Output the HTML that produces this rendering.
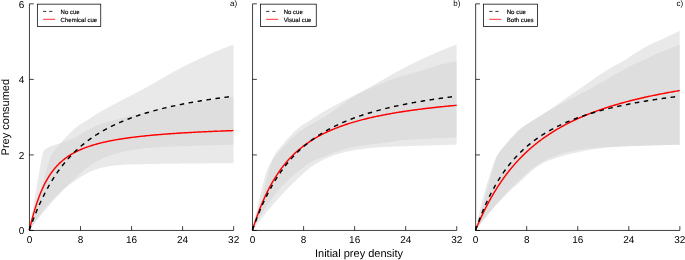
<!DOCTYPE html>
<html><head><meta charset="utf-8"><title>Functional response</title>
<style>html,body{margin:0;padding:0;background:#fff}body{width:685px;height:260px;overflow:hidden;font-family:"Liberation Sans",sans-serif}</style></head>
<body>
<svg width="685" height="260" viewBox="0 0 685 260" style="display:block;font-family:'Liberation Sans',sans-serif;text-rendering:geometricPrecision;will-change:transform">
<rect width="685" height="260" fill="#fff"/>
<path d="M29.30,230.20 L29.33,230.12 L29.38,229.94 L29.46,229.68 L29.57,229.35 L29.69,228.95 L29.83,228.49 L29.99,227.98 L30.17,227.41 L30.36,226.78 L30.56,226.11 L30.79,225.38 L31.02,224.60 L31.28,223.77 L31.54,222.89 L31.82,221.97 L32.11,220.99 L32.42,219.97 L32.74,218.90 L33.07,217.78 L33.41,216.62 L33.76,215.41 L34.13,214.15 L34.51,212.85 L34.90,211.50 L35.30,210.10 L35.72,208.66 L36.14,207.17 L36.58,205.64 L37.03,204.06 L37.49,202.44 L37.96,200.77 L38.44,199.06 L38.93,197.31 L39.43,195.51 L39.94,193.66 L40.46,191.78 L40.99,189.82 L41.54,187.79 L42.09,185.69 L42.65,183.56 L43.22,181.40 L43.81,179.24 L44.40,177.03 L45.00,174.79 L45.61,172.53 L46.23,170.29 L46.86,168.10 L47.50,165.95 L48.15,163.75 L48.81,161.56 L49.48,159.51 L50.16,157.69 L50.84,156.20 L51.54,154.90 L52.24,153.74 L52.96,152.67 L53.68,151.65 L54.41,150.65 L55.15,149.70 L55.90,148.81 L56.66,147.94 L57.42,147.08 L58.20,146.22 L58.98,145.32 L59.78,144.39 L60.58,143.44 L61.39,142.48 L62.21,141.51 L63.03,140.54 L63.87,139.57 L64.71,138.61 L65.56,137.67 L66.42,136.75 L67.29,135.81 L68.17,134.88 L69.05,133.94 L69.95,133.00 L70.85,132.08 L71.76,131.17 L72.68,130.29 L73.60,129.44 L74.54,128.63 L75.48,127.86 L76.43,127.13 L77.39,126.43 L78.35,125.75 L79.33,125.10 L80.31,124.46 L81.30,123.84 L82.29,123.22 L83.30,122.61 L84.31,121.99 L85.33,121.37 L86.36,120.73 L87.39,120.07 L88.44,119.39 L89.49,118.70 L90.55,118.01 L91.61,117.31 L92.69,116.60 L93.77,115.90 L94.86,115.19 L95.95,114.49 L97.06,113.79 L98.17,113.10 L99.29,112.42 L100.41,111.76 L101.55,111.10 L102.69,110.45 L103.84,109.80 L104.99,109.16 L106.16,108.52 L107.33,107.89 L108.50,107.25 L109.69,106.62 L110.88,105.99 L112.08,105.36 L113.29,104.72 L114.50,104.09 L115.72,103.44 L116.95,102.79 L118.18,102.14 L119.42,101.48 L120.67,100.83 L121.93,100.17 L123.19,99.52 L124.46,98.86 L125.74,98.20 L127.03,97.54 L128.32,96.88 L129.62,96.21 L130.92,95.54 L132.23,94.86 L133.55,94.18 L134.88,93.49 L136.21,92.80 L137.55,92.10 L138.90,91.39 L140.25,90.67 L141.61,89.94 L142.98,89.20 L144.35,88.45 L145.73,87.69 L147.12,86.92 L148.52,86.14 L149.92,85.35 L151.32,84.56 L152.74,83.75 L154.16,82.94 L155.59,82.13 L157.02,81.31 L158.46,80.48 L159.91,79.65 L161.37,78.82 L162.83,77.98 L164.29,77.14 L165.77,76.30 L167.25,75.46 L168.74,74.61 L170.23,73.77 L171.73,72.93 L173.24,72.08 L174.75,71.25 L176.27,70.41 L177.80,69.58 L179.33,68.75 L180.87,67.93 L182.42,67.12 L183.97,66.31 L185.53,65.51 L187.10,64.73 L188.67,63.95 L190.25,63.18 L191.83,62.42 L193.42,61.66 L195.02,60.90 L196.62,60.15 L198.23,59.40 L199.85,58.65 L201.47,57.90 L203.10,57.16 L204.74,56.42 L206.38,55.69 L208.03,54.96 L209.68,54.23 L211.34,53.50 L213.01,52.78 L214.68,52.07 L216.36,51.35 L218.05,50.65 L219.74,49.94 L221.44,49.24 L223.14,48.55 L224.85,47.86 L226.57,47.18 L228.29,46.50 L230.02,45.83 L231.76,45.16 L233.50,44.50 L233.50,144.70 L231.76,144.74 L230.02,144.78 L228.29,144.82 L226.57,144.86 L224.85,144.90 L223.14,144.94 L221.44,144.99 L219.74,145.03 L218.05,145.08 L216.36,145.12 L214.68,145.17 L213.01,145.21 L211.34,145.26 L209.68,145.30 L208.03,145.35 L206.38,145.40 L204.74,145.45 L203.10,145.49 L201.47,145.54 L199.85,145.59 L198.23,145.64 L196.62,145.69 L195.02,145.74 L193.42,145.79 L191.83,145.84 L190.25,145.88 L188.67,145.93 L187.10,145.98 L185.53,146.03 L183.97,146.08 L182.42,146.13 L180.87,146.18 L179.33,146.23 L177.80,146.28 L176.27,146.33 L174.75,146.39 L173.24,146.44 L171.73,146.50 L170.23,146.56 L168.74,146.63 L167.25,146.69 L165.77,146.76 L164.29,146.84 L162.83,146.91 L161.37,147.00 L159.91,147.08 L158.46,147.18 L157.02,147.28 L155.59,147.38 L154.16,147.49 L152.74,147.60 L151.32,147.72 L149.92,147.84 L148.52,147.96 L147.12,148.09 L145.73,148.22 L144.35,148.37 L142.98,148.52 L141.61,148.68 L140.25,148.84 L138.90,149.02 L137.55,149.20 L136.21,149.39 L134.88,149.59 L133.55,149.79 L132.23,150.00 L130.92,150.21 L129.62,150.44 L128.32,150.68 L127.03,150.93 L125.74,151.19 L124.46,151.46 L123.19,151.75 L121.93,152.04 L120.67,152.35 L119.42,152.66 L118.18,152.98 L116.95,153.31 L115.72,153.66 L114.50,154.03 L113.29,154.42 L112.08,154.83 L110.88,155.25 L109.69,155.69 L108.50,156.13 L107.33,156.59 L106.16,157.06 L104.99,157.54 L103.84,158.03 L102.69,158.54 L101.55,159.06 L100.41,159.60 L99.29,160.15 L98.17,160.72 L97.06,161.31 L95.95,161.91 L94.86,162.54 L93.77,163.19 L92.69,163.87 L91.61,164.57 L90.55,165.29 L89.49,166.03 L88.44,166.78 L87.39,167.55 L86.36,168.33 L85.33,169.12 L84.31,169.91 L83.30,170.73 L82.29,171.57 L81.30,172.44 L80.31,173.33 L79.33,174.23 L78.35,175.15 L77.39,176.07 L76.43,176.99 L75.48,177.91 L74.54,178.82 L73.60,179.72 L72.68,180.61 L71.76,181.49 L70.85,182.37 L69.95,183.24 L69.05,184.11 L68.17,184.97 L67.29,185.84 L66.42,186.70 L65.56,187.57 L64.71,188.43 L63.87,189.30 L63.03,190.17 L62.21,191.03 L61.39,191.91 L60.58,192.78 L59.78,193.64 L58.98,194.50 L58.20,195.36 L57.42,196.21 L56.66,197.05 L55.90,197.89 L55.15,198.72 L54.41,199.55 L53.68,200.37 L52.96,201.19 L52.24,201.99 L51.54,202.79 L50.84,203.59 L50.16,204.38 L49.48,205.16 L48.81,205.93 L48.15,206.70 L47.50,207.46 L46.86,208.21 L46.23,208.95 L45.61,209.68 L45.00,210.41 L44.40,211.13 L43.81,211.84 L43.22,212.54 L42.65,213.23 L42.09,213.91 L41.54,214.58 L40.99,215.25 L40.46,215.90 L39.94,216.54 L39.43,217.18 L38.93,217.80 L38.44,218.41 L37.96,219.01 L37.49,219.60 L37.03,220.17 L36.58,220.74 L36.14,221.29 L35.72,221.83 L35.30,222.36 L34.90,222.87 L34.51,223.38 L34.13,223.86 L33.76,224.34 L33.41,224.80 L33.07,225.24 L32.74,225.67 L32.42,226.09 L32.11,226.48 L31.82,226.87 L31.54,227.23 L31.28,227.58 L31.02,227.91 L30.79,228.22 L30.56,228.52 L30.36,228.79 L30.17,229.05 L29.99,229.28 L29.83,229.49 L29.69,229.68 L29.57,229.84 L29.46,229.98 L29.38,230.09 L29.33,230.17 L29.30,230.20Z" fill="#D3D3D3" fill-opacity="0.5"/>
<path d="M29.30,230.20 L29.33,230.05 L29.38,229.73 L29.46,229.25 L29.57,228.66 L29.69,227.95 L29.83,227.13 L29.99,226.20 L30.17,225.18 L30.36,224.07 L30.56,222.86 L30.79,221.56 L31.02,220.18 L31.28,218.71 L31.54,217.16 L31.82,215.52 L32.11,213.81 L32.42,212.02 L32.74,210.14 L33.07,208.20 L33.41,206.17 L33.76,204.07 L34.13,201.90 L34.51,199.65 L34.90,197.33 L35.30,194.94 L35.72,192.48 L36.14,189.93 L36.58,187.29 L37.03,184.57 L37.49,181.83 L37.96,179.11 L38.44,176.43 L38.93,173.75 L39.43,171.02 L39.94,168.20 L40.46,165.13 L40.99,161.75 L41.54,158.58 L42.09,156.17 L42.65,154.10 L43.22,152.28 L43.81,150.86 L44.40,149.96 L45.00,149.36 L45.61,148.92 L46.23,148.54 L46.86,148.18 L47.50,147.84 L48.15,147.51 L48.81,147.19 L49.48,146.88 L50.16,146.59 L50.84,146.31 L51.54,146.03 L52.24,145.77 L52.96,145.51 L53.68,145.26 L54.41,145.01 L55.15,144.76 L55.90,144.51 L56.66,144.26 L57.42,144.01 L58.20,143.75 L58.98,143.48 L59.78,143.19 L60.58,142.90 L61.39,142.60 L62.21,142.32 L63.03,142.03 L63.87,141.76 L64.71,141.48 L65.56,141.20 L66.42,140.92 L67.29,140.63 L68.17,140.34 L69.05,140.03 L69.95,139.71 L70.85,139.38 L71.76,139.02 L72.68,138.64 L73.60,138.23 L74.54,137.78 L75.48,137.29 L76.43,136.77 L77.39,136.22 L78.35,135.64 L79.33,135.05 L80.31,134.44 L81.30,133.83 L82.29,133.21 L83.30,132.59 L84.31,131.99 L85.33,131.40 L86.36,130.84 L87.39,130.30 L88.44,129.76 L89.49,129.22 L90.55,128.68 L91.61,128.14 L92.69,127.60 L93.77,127.07 L94.86,126.55 L95.95,126.04 L97.06,125.55 L98.17,125.08 L99.29,124.63 L100.41,124.21 L101.55,123.81 L102.69,123.44 L103.84,123.09 L104.99,122.75 L106.16,122.42 L107.33,122.11 L108.50,121.81 L109.69,121.51 L110.88,121.21 L112.08,120.91 L113.29,120.61 L114.50,120.30 L115.72,119.98 L116.95,119.65 L118.18,119.31 L119.42,118.94 L120.67,118.57 L121.93,118.19 L123.19,117.81 L124.46,117.42 L125.74,117.03 L127.03,116.65 L128.32,116.28 L129.62,115.92 L130.92,115.57 L132.23,115.24 L133.55,114.92 L134.88,114.61 L136.21,114.30 L137.55,113.99 L138.90,113.68 L140.25,113.37 L141.61,113.07 L142.98,112.77 L144.35,112.47 L145.73,112.18 L147.12,111.89 L148.52,111.60 L149.92,111.31 L151.32,111.02 L152.74,110.74 L154.16,110.45 L155.59,110.17 L157.02,109.89 L158.46,109.61 L159.91,109.34 L161.37,109.06 L162.83,108.79 L164.29,108.52 L165.77,108.24 L167.25,107.97 L168.74,107.70 L170.23,107.43 L171.73,107.16 L173.24,106.89 L174.75,106.62 L176.27,106.35 L177.80,106.08 L179.33,105.80 L180.87,105.53 L182.42,105.26 L183.97,104.98 L185.53,104.71 L187.10,104.43 L188.67,104.15 L190.25,103.88 L191.83,103.60 L193.42,103.33 L195.02,103.06 L196.62,102.78 L198.23,102.51 L199.85,102.24 L201.47,101.97 L203.10,101.70 L204.74,101.43 L206.38,101.16 L208.03,100.89 L209.68,100.62 L211.34,100.36 L213.01,100.09 L214.68,99.83 L216.36,99.56 L218.05,99.30 L219.74,99.04 L221.44,98.78 L223.14,98.52 L224.85,98.27 L226.57,98.01 L228.29,97.76 L230.02,97.50 L231.76,97.25 L233.50,97.00 L233.50,163.20 L231.76,163.21 L230.02,163.21 L228.29,163.22 L226.57,163.23 L224.85,163.24 L223.14,163.25 L221.44,163.26 L219.74,163.27 L218.05,163.28 L216.36,163.29 L214.68,163.30 L213.01,163.31 L211.34,163.32 L209.68,163.34 L208.03,163.35 L206.38,163.36 L204.74,163.38 L203.10,163.39 L201.47,163.40 L199.85,163.42 L198.23,163.43 L196.62,163.45 L195.02,163.46 L193.42,163.48 L191.83,163.49 L190.25,163.51 L188.67,163.52 L187.10,163.54 L185.53,163.55 L183.97,163.57 L182.42,163.59 L180.87,163.60 L179.33,163.62 L177.80,163.63 L176.27,163.65 L174.75,163.66 L173.24,163.68 L171.73,163.70 L170.23,163.71 L168.74,163.73 L167.25,163.75 L165.77,163.76 L164.29,163.78 L162.83,163.80 L161.37,163.82 L159.91,163.84 L158.46,163.86 L157.02,163.88 L155.59,163.90 L154.16,163.92 L152.74,163.94 L151.32,163.97 L149.92,163.99 L148.52,164.01 L147.12,164.04 L145.73,164.06 L144.35,164.09 L142.98,164.12 L141.61,164.15 L140.25,164.18 L138.90,164.21 L137.55,164.24 L136.21,164.27 L134.88,164.30 L133.55,164.34 L132.23,164.38 L130.92,164.43 L129.62,164.48 L128.32,164.53 L127.03,164.59 L125.74,164.66 L124.46,164.72 L123.19,164.80 L121.93,164.87 L120.67,164.95 L119.42,165.04 L118.18,165.14 L116.95,165.25 L115.72,165.37 L114.50,165.50 L113.29,165.64 L112.08,165.80 L110.88,165.96 L109.69,166.13 L108.50,166.32 L107.33,166.51 L106.16,166.71 L104.99,166.93 L103.84,167.18 L102.69,167.45 L101.55,167.75 L100.41,168.06 L99.29,168.40 L98.17,168.76 L97.06,169.13 L95.95,169.52 L94.86,169.92 L93.77,170.32 L92.69,170.74 L91.61,171.17 L90.55,171.60 L89.49,172.07 L88.44,172.56 L87.39,173.09 L86.36,173.65 L85.33,174.23 L84.31,174.82 L83.30,175.44 L82.29,176.06 L81.30,176.70 L80.31,177.34 L79.33,177.99 L78.35,178.63 L77.39,179.28 L76.43,179.92 L75.48,180.55 L74.54,181.17 L73.60,181.80 L72.68,182.43 L71.76,183.05 L70.85,183.68 L69.95,184.32 L69.05,184.95 L68.17,185.60 L67.29,186.25 L66.42,186.90 L65.56,187.57 L64.71,188.24 L63.87,188.92 L63.03,189.61 L62.21,190.31 L61.39,191.03 L60.58,191.75 L59.78,192.48 L58.98,193.22 L58.20,193.96 L57.42,194.71 L56.66,195.46 L55.90,196.21 L55.15,196.97 L54.41,197.73 L53.68,198.49 L52.96,199.25 L52.24,200.02 L51.54,200.78 L50.84,201.55 L50.16,202.31 L49.48,203.07 L48.81,203.84 L48.15,204.60 L47.50,205.36 L46.86,206.12 L46.23,206.87 L45.61,207.62 L45.00,208.37 L44.40,209.11 L43.81,209.85 L43.22,210.58 L42.65,211.31 L42.09,212.03 L41.54,212.74 L40.99,213.45 L40.46,214.15 L39.94,214.85 L39.43,215.53 L38.93,216.21 L38.44,216.87 L37.96,217.53 L37.49,218.18 L37.03,218.81 L36.58,219.44 L36.14,220.05 L35.72,220.66 L35.30,221.25 L34.90,221.82 L34.51,222.39 L34.13,222.94 L33.76,223.47 L33.41,223.99 L33.07,224.50 L32.74,224.99 L32.42,225.46 L32.11,225.91 L31.82,226.35 L31.54,226.77 L31.28,227.17 L31.02,227.55 L30.79,227.91 L30.56,228.25 L30.36,228.57 L30.17,228.86 L29.99,229.13 L29.83,229.38 L29.69,229.60 L29.57,229.79 L29.46,229.95 L29.38,230.07 L29.33,230.16 L29.30,230.20Z" fill="#D3D3D3" fill-opacity="0.5"/>
<path d="M29.30,230.20 L29.31,230.15 L29.34,230.03 L29.38,229.86 L29.43,229.64 L29.49,229.38 L29.57,229.08 L29.65,228.75 L29.73,228.39 L29.83,227.99 L29.93,227.56 L30.04,227.10 L30.16,226.62 L30.29,226.10 L30.42,225.57 L30.56,225.01 L30.71,224.42 L30.86,223.81 L31.02,223.19 L31.18,222.54 L31.36,221.87 L31.53,221.18 L31.72,220.48 L31.91,219.76 L32.10,219.02 L32.31,218.27 L32.51,217.50 L32.73,216.72 L32.94,215.93 L33.17,215.12 L33.40,214.31 L33.63,213.48 L33.87,212.65 L34.12,211.80 L34.37,210.95 L34.63,210.10 L34.89,209.23 L35.15,208.36 L35.42,207.49 L35.70,206.61 L35.98,205.72 L36.27,204.84 L36.56,203.95 L36.86,203.06 L37.16,202.17 L37.46,201.28 L37.77,200.39 L38.09,199.50 L38.41,198.61 L38.74,197.73 L39.06,196.84 L39.40,195.96 L39.74,195.09 L40.08,194.21 L40.43,193.34 L40.78,192.48 L41.14,191.62 L41.50,190.77 L41.87,189.92 L42.24,189.08 L42.61,188.25 L42.99,187.42 L43.38,186.60 L43.76,185.79 L44.16,184.98 L44.55,184.19 L44.95,183.40 L45.36,182.62 L45.77,181.84 L46.18,181.08 L46.60,180.33 L47.02,179.58 L47.45,178.84 L47.88,178.11 L48.32,177.40 L48.75,176.69 L49.20,175.99 L49.64,175.29 L50.10,174.61 L50.55,173.94 L51.01,173.28 L51.47,172.62 L51.94,171.98 L52.41,171.34 L52.89,170.72 L53.37,170.10 L53.85,169.49 L54.34,168.89 L54.83,168.30 L55.32,167.72 L55.82,167.15 L56.33,166.59 L56.83,166.03 L57.34,165.49 L57.86,164.95 L58.38,164.42 L58.90,163.90 L59.42,163.39 L59.95,162.88 L60.49,162.39 L61.03,161.90 L61.57,161.42 L62.11,160.95 L62.66,160.48 L63.21,160.02 L63.77,159.57 L64.33,159.13 L64.89,158.69 L65.46,158.27 L66.03,157.84 L66.61,157.43 L67.18,157.02 L67.77,156.62 L68.35,156.22 L68.94,155.83 L69.53,155.45 L70.13,155.07 L70.73,154.70 L71.34,154.34 L71.94,153.98 L72.55,153.63 L73.17,153.28 L73.79,152.94 L74.41,152.60 L75.03,152.27 L75.66,151.94 L76.29,151.62 L76.93,151.31 L77.57,151.00 L78.21,150.69 L78.86,150.39 L79.51,150.09 L80.16,149.80 L80.82,149.52 L81.48,149.23 L82.14,148.96 L82.81,148.68 L83.48,148.41 L84.15,148.15 L84.83,147.89 L85.51,147.63 L86.20,147.37 L86.88,147.12 L87.58,146.88 L88.27,146.64 L88.97,146.40 L89.67,146.16 L90.37,145.93 L91.08,145.70 L91.79,145.48 L92.51,145.26 L93.23,145.04 L93.95,144.82 L94.67,144.61 L95.40,144.40 L96.13,144.20 L96.87,143.99 L97.60,143.79 L98.34,143.60 L99.09,143.40 L99.84,143.21 L100.59,143.02 L101.34,142.84 L102.10,142.65 L102.86,142.47 L103.63,142.30 L104.39,142.12 L105.16,141.95 L105.94,141.77 L106.71,141.61 L107.49,141.44 L108.28,141.28 L109.07,141.11 L109.86,140.95 L110.65,140.80 L111.44,140.64 L112.24,140.49 L113.05,140.34 L113.85,140.19 L114.66,140.04 L115.47,139.90 L116.29,139.75 L117.11,139.61 L117.93,139.47 L118.76,139.33 L119.58,139.20 L120.41,139.06 L121.25,138.93 L122.09,138.80 L122.93,138.67 L123.77,138.54 L124.62,138.42 L125.47,138.29 L126.32,138.17 L127.18,138.05 L128.04,137.93 L128.90,137.81 L129.76,137.69 L130.63,137.58 L131.50,137.46 L132.38,137.35 L133.26,137.24 L134.14,137.13 L135.02,137.02 L135.91,136.91 L136.80,136.81 L137.69,136.70 L138.59,136.60 L139.48,136.50 L140.39,136.39 L141.29,136.29 L142.20,136.20 L143.11,136.10 L144.03,136.00 L144.94,135.91 L145.86,135.81 L146.79,135.72 L147.71,135.63 L148.64,135.53 L149.57,135.44 L150.51,135.36 L151.45,135.27 L152.39,135.18 L153.33,135.09 L154.28,135.01 L155.23,134.93 L156.18,134.84 L157.14,134.76 L158.10,134.68 L159.06,134.60 L160.02,134.52 L160.99,134.44 L161.96,134.36 L162.93,134.28 L163.91,134.21 L164.89,134.13 L165.87,134.06 L166.86,133.98 L167.85,133.91 L168.84,133.84 L169.83,133.77 L170.83,133.70 L171.83,133.63 L172.83,133.56 L173.84,133.49 L174.84,133.42 L175.86,133.35 L176.87,133.29 L177.89,133.22 L178.91,133.16 L179.93,133.09 L180.96,133.03 L181.98,132.96 L183.02,132.90 L184.05,132.84 L185.09,132.78 L186.13,132.72 L187.17,132.66 L188.22,132.60 L189.26,132.54 L190.32,132.48 L191.37,132.42 L192.43,132.37 L193.49,132.31 L194.55,132.25 L195.62,132.20 L196.68,132.14 L197.75,132.09 L198.83,132.03 L199.91,131.98 L200.99,131.93 L202.07,131.87 L203.15,131.82 L204.24,131.77 L205.33,131.72 L206.43,131.67 L207.52,131.62 L208.62,131.57 L209.72,131.52 L210.83,131.47 L211.93,131.42 L213.04,131.38 L214.16,131.33 L215.27,131.28 L216.39,131.23 L217.51,131.19 L218.64,131.14 L219.76,131.10 L220.89,131.05 L222.03,131.01 L223.16,130.96 L224.30,130.92 L225.44,130.88 L226.58,130.83 L227.73,130.79 L228.88,130.75 L230.03,130.71 L231.18,130.67 L232.34,130.62 L233.50,130.58" fill="none" stroke="#f00" stroke-width="1.45"/>
<path d="M29.30,230.20 L29.31,230.16 L29.34,230.08 L29.38,229.97 L29.43,229.82 L29.49,229.65 L29.56,229.44 L29.64,229.22 L29.73,228.97 L29.83,228.70 L29.93,228.41 L30.04,228.10 L30.16,227.76 L30.28,227.41 L30.41,227.04 L30.55,226.66 L30.70,226.25 L30.85,225.83 L31.01,225.40 L31.17,224.95 L31.34,224.48 L31.52,224.00 L31.70,223.50 L31.89,222.99 L32.09,222.47 L32.29,221.94 L32.49,221.39 L32.70,220.83 L32.92,220.26 L33.14,219.68 L33.37,219.08 L33.61,218.48 L33.84,217.87 L34.09,217.24 L34.34,216.61 L34.59,215.97 L34.85,215.32 L35.12,214.66 L35.39,213.99 L35.66,213.32 L35.94,212.64 L36.23,211.95 L36.51,211.25 L36.81,210.55 L37.11,209.84 L37.41,209.12 L37.72,208.40 L38.03,207.68 L38.35,206.95 L38.68,206.21 L39.00,205.47 L39.34,204.73 L39.67,203.98 L40.01,203.23 L40.36,202.48 L40.71,201.72 L41.07,200.96 L41.42,200.19 L41.79,199.43 L42.16,198.66 L42.53,197.89 L42.91,197.12 L43.29,196.35 L43.67,195.57 L44.06,194.80 L44.46,194.02 L44.86,193.24 L45.26,192.47 L45.67,191.69 L46.08,190.91 L46.49,190.13 L46.91,189.36 L47.34,188.58 L47.76,187.80 L48.20,187.03 L48.63,186.25 L49.07,185.48 L49.52,184.71 L49.97,183.94 L50.42,183.17 L50.87,182.40 L51.34,181.64 L51.80,180.87 L52.27,180.11 L52.74,179.35 L53.22,178.60 L53.70,177.84 L54.18,177.09 L54.67,176.34 L55.16,175.60 L55.66,174.86 L56.16,174.12 L56.66,173.38 L57.17,172.65 L57.68,171.92 L58.19,171.19 L58.71,170.47 L59.24,169.75 L59.76,169.03 L60.29,168.32 L60.83,167.61 L61.37,166.91 L61.91,166.21 L62.45,165.51 L63.00,164.82 L63.55,164.13 L64.11,163.44 L64.67,162.76 L65.23,162.08 L65.80,161.41 L66.37,160.74 L66.95,160.08 L67.53,159.42 L68.11,158.76 L68.69,158.11 L69.28,157.47 L69.88,156.82 L70.47,156.19 L71.07,155.55 L71.68,154.92 L72.28,154.30 L72.89,153.68 L73.51,153.06 L74.13,152.45 L74.75,151.85 L75.37,151.24 L76.00,150.65 L76.63,150.05 L77.27,149.47 L77.91,148.88 L78.55,148.30 L79.19,147.73 L79.84,147.16 L80.50,146.59 L81.15,146.03 L81.81,145.47 L82.48,144.92 L83.14,144.37 L83.81,143.82 L84.48,143.28 L85.16,142.75 L85.84,142.22 L86.52,141.69 L87.21,141.17 L87.90,140.65 L88.59,140.14 L89.29,139.63 L89.99,139.12 L90.70,138.62 L91.40,138.13 L92.11,137.63 L92.83,137.14 L93.54,136.66 L94.26,136.18 L94.99,135.70 L95.71,135.23 L96.44,134.76 L97.18,134.30 L97.91,133.84 L98.65,133.38 L99.40,132.93 L100.14,132.48 L100.89,132.04 L101.65,131.60 L102.40,131.16 L103.16,130.73 L103.92,130.30 L104.69,129.87 L105.46,129.45 L106.23,129.03 L107.01,128.62 L107.78,128.21 L108.57,127.80 L109.35,127.40 L110.14,127.00 L110.93,126.60 L111.73,126.21 L112.52,125.82 L113.32,125.43 L114.13,125.05 L114.94,124.67 L115.75,124.29 L116.56,123.92 L117.38,123.55 L118.20,123.18 L119.02,122.82 L119.84,122.46 L120.67,122.10 L121.51,121.75 L122.34,121.39 L123.18,121.05 L124.02,120.70 L124.87,120.36 L125.71,120.02 L126.56,119.69 L127.42,119.35 L128.28,119.02 L129.14,118.70 L130.00,118.37 L130.86,118.05 L131.73,117.73 L132.61,117.42 L133.48,117.10 L134.36,116.79 L135.24,116.49 L136.13,116.18 L137.01,115.88 L137.90,115.58 L138.80,115.28 L139.69,114.99 L140.59,114.69 L141.49,114.40 L142.40,114.12 L143.31,113.83 L144.22,113.55 L145.13,113.27 L146.05,112.99 L146.97,112.72 L147.90,112.45 L148.82,112.18 L149.75,111.91 L150.68,111.64 L151.62,111.38 L152.56,111.12 L153.50,110.86 L154.44,110.60 L155.39,110.35 L156.34,110.09 L157.29,109.84 L158.25,109.59 L159.21,109.35 L160.17,109.10 L161.13,108.86 L162.10,108.62 L163.07,108.38 L164.04,108.15 L165.02,107.91 L166.00,107.68 L166.98,107.45 L167.97,107.22 L168.95,107.00 L169.94,106.77 L170.94,106.55 L171.93,106.33 L172.93,106.11 L173.94,105.89 L174.94,105.67 L175.95,105.46 L176.96,105.25 L177.97,105.04 L178.99,104.83 L180.01,104.62 L181.03,104.42 L182.06,104.21 L183.08,104.01 L184.11,103.81 L185.15,103.61 L186.18,103.42 L187.22,103.22 L188.26,103.03 L189.31,102.83 L190.36,102.64 L191.41,102.45 L192.46,102.26 L193.52,102.08 L194.58,101.89 L195.64,101.71 L196.70,101.53 L197.77,101.35 L198.84,101.17 L199.91,100.99 L200.99,100.81 L202.07,100.64 L203.15,100.46 L204.23,100.29 L205.32,100.12 L206.41,99.95 L207.50,99.78 L208.59,99.61 L209.69,99.45 L210.79,99.28 L211.90,99.12 L213.00,98.96 L214.11,98.80 L215.22,98.64 L216.34,98.48 L217.45,98.32 L218.57,98.17 L219.70,98.01 L220.82,97.86 L221.95,97.70 L223.08,97.55 L224.21,97.40 L225.35,97.25 L226.49,97.11 L227.63,96.96 L228.77,96.81 L229.92,96.67 L231.07,96.52 L232.22,96.38" fill="none" stroke="#000" stroke-width="1.45" stroke-dasharray="4.53 4.52"/>
<path d="M29.45,3.85 L29.45,230.45 L233.65,230.45 M29.45,230.45 h4.3 M29.45,154.92 h4.3 M29.45,79.38 h4.3 M29.45,3.85 h4.3 M29.45,230.45 v-4.3 M80.50,230.45 v-4.3 M131.55,230.45 v-4.3 M182.60,230.45 v-4.3 M233.65,230.45 v-4.3" fill="none" stroke="#000" stroke-width="0.75"/>
<text x="29.45" y="243.3" font-size="10" text-anchor="middle">0</text>
<text x="80.50" y="243.3" font-size="10" text-anchor="middle">8</text>
<text x="131.55" y="243.3" font-size="10" text-anchor="middle">16</text>
<text x="182.60" y="243.3" font-size="10" text-anchor="middle">24</text>
<text x="233.65" y="243.3" font-size="10" text-anchor="middle">32</text>
<text x="24.2" y="234.35" font-size="10" text-anchor="end">0</text>
<text x="24.2" y="158.82" font-size="10" text-anchor="end">2</text>
<text x="24.2" y="83.28" font-size="10" text-anchor="end">4</text>
<text x="24.2" y="7.75" font-size="10" text-anchor="end">6</text>
<text x="233.65" y="5.9" font-size="8" text-anchor="middle">a)</text>
<rect x="37.35" y="4.15" width="63.4" height="22.35" fill="#fff" stroke="#000" stroke-width="0.75"/>
<path d="M43.05,11.4 h11.9" stroke="#000" stroke-width="0.8" stroke-dasharray="3.2 2.9" fill="none"/>
<path d="M43.05,19.3 h12.1" stroke="#f00" stroke-width="0.8" fill="none"/>
<text x="60.55" y="13.6" font-size="6.05" stroke="#000" stroke-width="0.15">No cue</text>
<text x="60.55" y="21.7" font-size="6.05" stroke="#000" stroke-width="0.15">Chemical cue</text>
<path d="M252.40,230.20 L252.43,230.12 L252.48,229.94 L252.56,229.68 L252.67,229.35 L252.79,228.95 L252.93,228.49 L253.09,227.98 L253.27,227.41 L253.46,226.78 L253.66,226.11 L253.89,225.38 L254.12,224.60 L254.38,223.77 L254.64,222.89 L254.92,221.97 L255.21,220.99 L255.52,219.97 L255.84,218.90 L256.17,217.78 L256.51,216.62 L256.86,215.41 L257.23,214.15 L257.61,212.85 L258.00,211.50 L258.40,210.10 L258.82,208.66 L259.24,207.17 L259.68,205.64 L260.13,204.06 L260.59,202.44 L261.06,200.77 L261.54,199.06 L262.03,197.31 L262.53,195.51 L263.04,193.66 L263.56,191.78 L264.09,189.82 L264.64,187.79 L265.19,185.69 L265.75,183.56 L266.32,181.40 L266.91,179.24 L267.50,177.03 L268.10,174.79 L268.71,172.53 L269.33,170.29 L269.96,168.10 L270.60,165.95 L271.25,163.75 L271.91,161.56 L272.58,159.51 L273.26,157.69 L273.94,156.20 L274.64,154.90 L275.34,153.74 L276.06,152.67 L276.78,151.65 L277.51,150.65 L278.25,149.70 L279.00,148.81 L279.76,147.94 L280.52,147.08 L281.30,146.22 L282.08,145.32 L282.88,144.39 L283.68,143.44 L284.49,142.48 L285.31,141.51 L286.13,140.54 L286.97,139.57 L287.81,138.61 L288.66,137.67 L289.52,136.75 L290.39,135.81 L291.27,134.88 L292.15,133.94 L293.05,133.00 L293.95,132.08 L294.86,131.17 L295.78,130.29 L296.70,129.44 L297.64,128.63 L298.58,127.86 L299.53,127.13 L300.49,126.43 L301.45,125.75 L302.43,125.10 L303.41,124.46 L304.40,123.84 L305.39,123.22 L306.40,122.61 L307.41,121.99 L308.43,121.37 L309.46,120.73 L310.49,120.07 L311.54,119.39 L312.59,118.70 L313.65,118.01 L314.71,117.31 L315.79,116.60 L316.87,115.90 L317.96,115.19 L319.05,114.49 L320.16,113.79 L321.27,113.10 L322.39,112.42 L323.51,111.76 L324.65,111.10 L325.79,110.45 L326.94,109.80 L328.09,109.16 L329.26,108.52 L330.43,107.89 L331.60,107.25 L332.79,106.62 L333.98,105.99 L335.18,105.36 L336.39,104.72 L337.60,104.09 L338.82,103.44 L340.05,102.79 L341.28,102.14 L342.52,101.48 L343.77,100.83 L345.03,100.17 L346.29,99.52 L347.56,98.86 L348.84,98.20 L350.13,97.54 L351.42,96.88 L352.72,96.21 L354.02,95.54 L355.33,94.86 L356.65,94.18 L357.98,93.49 L359.31,92.80 L360.65,92.10 L362.00,91.39 L363.35,90.67 L364.71,89.94 L366.08,89.20 L367.45,88.45 L368.83,87.69 L370.22,86.92 L371.62,86.14 L373.02,85.35 L374.42,84.56 L375.84,83.75 L377.26,82.94 L378.69,82.13 L380.12,81.31 L381.56,80.48 L383.01,79.65 L384.47,78.82 L385.93,77.98 L387.39,77.14 L388.87,76.30 L390.35,75.46 L391.84,74.61 L393.33,73.77 L394.83,72.93 L396.34,72.08 L397.85,71.25 L399.37,70.41 L400.90,69.58 L402.43,68.75 L403.97,67.93 L405.52,67.12 L407.07,66.31 L408.63,65.51 L410.20,64.73 L411.77,63.95 L413.35,63.18 L414.93,62.42 L416.52,61.66 L418.12,60.90 L419.72,60.15 L421.33,59.40 L422.95,58.65 L424.57,57.90 L426.20,57.16 L427.84,56.42 L429.48,55.69 L431.13,54.96 L432.78,54.23 L434.44,53.50 L436.11,52.78 L437.78,52.07 L439.46,51.35 L441.15,50.65 L442.84,49.94 L444.54,49.24 L446.24,48.55 L447.95,47.86 L449.67,47.18 L451.39,46.50 L453.12,45.83 L454.86,45.16 L456.60,44.50 L456.60,144.70 L454.86,144.74 L453.12,144.78 L451.39,144.82 L449.67,144.86 L447.95,144.90 L446.24,144.94 L444.54,144.99 L442.84,145.03 L441.15,145.08 L439.46,145.12 L437.78,145.17 L436.11,145.21 L434.44,145.26 L432.78,145.30 L431.13,145.35 L429.48,145.40 L427.84,145.45 L426.20,145.49 L424.57,145.54 L422.95,145.59 L421.33,145.64 L419.72,145.69 L418.12,145.74 L416.52,145.79 L414.93,145.84 L413.35,145.88 L411.77,145.93 L410.20,145.98 L408.63,146.03 L407.07,146.08 L405.52,146.13 L403.97,146.18 L402.43,146.23 L400.90,146.28 L399.37,146.33 L397.85,146.39 L396.34,146.44 L394.83,146.50 L393.33,146.56 L391.84,146.63 L390.35,146.69 L388.87,146.76 L387.39,146.84 L385.93,146.91 L384.47,147.00 L383.01,147.08 L381.56,147.18 L380.12,147.28 L378.69,147.38 L377.26,147.49 L375.84,147.60 L374.42,147.72 L373.02,147.84 L371.62,147.96 L370.22,148.09 L368.83,148.22 L367.45,148.37 L366.08,148.52 L364.71,148.68 L363.35,148.84 L362.00,149.02 L360.65,149.20 L359.31,149.39 L357.98,149.59 L356.65,149.79 L355.33,150.00 L354.02,150.21 L352.72,150.44 L351.42,150.68 L350.13,150.93 L348.84,151.19 L347.56,151.46 L346.29,151.75 L345.03,152.04 L343.77,152.35 L342.52,152.66 L341.28,152.98 L340.05,153.31 L338.82,153.66 L337.60,154.03 L336.39,154.42 L335.18,154.83 L333.98,155.25 L332.79,155.69 L331.60,156.13 L330.43,156.59 L329.26,157.06 L328.09,157.54 L326.94,158.03 L325.79,158.54 L324.65,159.06 L323.51,159.60 L322.39,160.15 L321.27,160.72 L320.16,161.31 L319.05,161.91 L317.96,162.54 L316.87,163.19 L315.79,163.87 L314.71,164.57 L313.65,165.29 L312.59,166.03 L311.54,166.78 L310.49,167.55 L309.46,168.33 L308.43,169.12 L307.41,169.91 L306.40,170.73 L305.39,171.57 L304.40,172.44 L303.41,173.33 L302.43,174.23 L301.45,175.15 L300.49,176.07 L299.53,176.99 L298.58,177.91 L297.64,178.82 L296.70,179.72 L295.78,180.61 L294.86,181.49 L293.95,182.37 L293.05,183.24 L292.15,184.11 L291.27,184.97 L290.39,185.84 L289.52,186.70 L288.66,187.57 L287.81,188.43 L286.97,189.30 L286.13,190.17 L285.31,191.03 L284.49,191.91 L283.68,192.78 L282.88,193.64 L282.08,194.50 L281.30,195.36 L280.52,196.21 L279.76,197.05 L279.00,197.89 L278.25,198.72 L277.51,199.55 L276.78,200.37 L276.06,201.19 L275.34,201.99 L274.64,202.79 L273.94,203.59 L273.26,204.38 L272.58,205.16 L271.91,205.93 L271.25,206.70 L270.60,207.46 L269.96,208.21 L269.33,208.95 L268.71,209.68 L268.10,210.41 L267.50,211.13 L266.91,211.84 L266.32,212.54 L265.75,213.23 L265.19,213.91 L264.64,214.58 L264.09,215.25 L263.56,215.90 L263.04,216.54 L262.53,217.18 L262.03,217.80 L261.54,218.41 L261.06,219.01 L260.59,219.60 L260.13,220.17 L259.68,220.74 L259.24,221.29 L258.82,221.83 L258.40,222.36 L258.00,222.87 L257.61,223.38 L257.23,223.86 L256.86,224.34 L256.51,224.80 L256.17,225.24 L255.84,225.67 L255.52,226.09 L255.21,226.48 L254.92,226.87 L254.64,227.23 L254.38,227.58 L254.12,227.91 L253.89,228.22 L253.66,228.52 L253.46,228.79 L253.27,229.05 L253.09,229.28 L252.93,229.49 L252.79,229.68 L252.67,229.84 L252.56,229.98 L252.48,230.09 L252.43,230.17 L252.40,230.20Z" fill="#D3D3D3" fill-opacity="0.5"/>
<path d="M252.40,230.20 L252.43,230.08 L252.48,229.80 L252.56,229.41 L252.67,228.91 L252.79,228.32 L252.93,227.64 L253.09,226.87 L253.27,226.03 L253.46,225.12 L253.66,224.14 L253.89,223.09 L254.12,221.98 L254.38,220.81 L254.64,219.58 L254.92,218.30 L255.21,216.96 L255.52,215.57 L255.84,214.13 L256.17,212.65 L256.51,211.12 L256.86,209.55 L257.23,207.93 L257.61,206.28 L258.00,204.59 L258.40,202.86 L258.82,201.09 L259.24,199.29 L259.68,197.46 L260.13,195.59 L260.59,193.70 L261.06,191.77 L261.54,189.81 L262.03,187.83 L262.53,185.84 L263.04,183.86 L263.56,181.92 L264.09,180.02 L264.64,178.15 L265.19,176.25 L265.75,174.37 L266.32,172.52 L266.91,170.74 L267.50,169.07 L268.10,167.54 L268.71,166.15 L269.33,164.83 L269.96,163.59 L270.60,162.42 L271.25,161.32 L271.91,160.28 L272.58,159.32 L273.26,158.41 L273.94,157.56 L274.64,156.75 L275.34,155.96 L276.06,155.17 L276.78,154.37 L277.51,153.53 L278.25,152.69 L279.00,151.84 L279.76,150.98 L280.52,150.12 L281.30,149.26 L282.08,148.39 L282.88,147.53 L283.68,146.66 L284.49,145.80 L285.31,144.94 L286.13,144.08 L286.97,143.23 L287.81,142.39 L288.66,141.55 L289.52,140.70 L290.39,139.85 L291.27,139.01 L292.15,138.16 L293.05,137.32 L293.95,136.48 L294.86,135.66 L295.78,134.85 L296.70,134.05 L297.64,133.28 L298.58,132.53 L299.53,131.80 L300.49,131.11 L301.45,130.44 L302.43,129.78 L303.41,129.15 L304.40,128.53 L305.39,127.91 L306.40,127.30 L307.41,126.68 L308.43,126.06 L309.46,125.44 L310.49,124.83 L311.54,124.22 L312.59,123.62 L313.65,123.03 L314.71,122.43 L315.79,121.84 L316.87,121.24 L317.96,120.63 L319.05,120.02 L320.16,119.40 L321.27,118.76 L322.39,118.11 L323.51,117.45 L324.65,116.76 L325.79,116.04 L326.94,115.31 L328.09,114.55 L329.26,113.78 L330.43,112.99 L331.60,112.19 L332.79,111.39 L333.98,110.58 L335.18,109.76 L336.39,108.93 L337.60,108.07 L338.82,107.19 L340.05,106.30 L341.28,105.39 L342.52,104.48 L343.77,103.56 L345.03,102.65 L346.29,101.73 L347.56,100.82 L348.84,99.92 L350.13,99.04 L351.42,98.17 L352.72,97.33 L354.02,96.51 L355.33,95.72 L356.65,94.97 L357.98,94.25 L359.31,93.54 L360.65,92.85 L362.00,92.18 L363.35,91.51 L364.71,90.86 L366.08,90.23 L367.45,89.60 L368.83,88.98 L370.22,88.37 L371.62,87.76 L373.02,87.16 L374.42,86.56 L375.84,85.96 L377.26,85.35 L378.69,84.75 L380.12,84.15 L381.56,83.54 L383.01,82.94 L384.47,82.34 L385.93,81.75 L387.39,81.16 L388.87,80.58 L390.35,80.01 L391.84,79.46 L393.33,78.91 L394.83,78.39 L396.34,77.88 L397.85,77.40 L399.37,76.94 L400.90,76.49 L402.43,76.06 L403.97,75.65 L405.52,75.23 L407.07,74.82 L408.63,74.41 L410.20,73.99 L411.77,73.55 L413.35,73.10 L414.93,72.65 L416.52,72.19 L418.12,71.73 L419.72,71.26 L421.33,70.78 L422.95,70.30 L424.57,69.81 L426.20,69.30 L427.84,68.76 L429.48,68.20 L431.13,67.63 L432.78,67.07 L434.44,66.52 L436.11,65.99 L437.78,65.49 L439.46,65.03 L441.15,64.61 L442.84,64.20 L444.54,63.81 L446.24,63.42 L447.95,63.05 L449.67,62.70 L451.39,62.37 L453.12,62.06 L454.86,61.77 L456.60,61.50 L456.60,137.60 L454.86,137.63 L453.12,137.67 L451.39,137.71 L449.67,137.76 L447.95,137.81 L446.24,137.86 L444.54,137.92 L442.84,137.98 L441.15,138.04 L439.46,138.11 L437.78,138.18 L436.11,138.25 L434.44,138.32 L432.78,138.39 L431.13,138.47 L429.48,138.55 L427.84,138.62 L426.20,138.70 L424.57,138.78 L422.95,138.86 L421.33,138.95 L419.72,139.03 L418.12,139.13 L416.52,139.22 L414.93,139.32 L413.35,139.42 L411.77,139.53 L410.20,139.64 L408.63,139.76 L407.07,139.88 L405.52,140.01 L403.97,140.15 L402.43,140.28 L400.90,140.43 L399.37,140.60 L397.85,140.79 L396.34,141.00 L394.83,141.22 L393.33,141.45 L391.84,141.69 L390.35,141.93 L388.87,142.16 L387.39,142.38 L385.93,142.59 L384.47,142.78 L383.01,142.96 L381.56,143.14 L380.12,143.31 L378.69,143.48 L377.26,143.65 L375.84,143.81 L374.42,143.99 L373.02,144.16 L371.62,144.33 L370.22,144.50 L368.83,144.66 L367.45,144.82 L366.08,144.99 L364.71,145.15 L363.35,145.32 L362.00,145.49 L360.65,145.67 L359.31,145.86 L357.98,146.05 L356.65,146.26 L355.33,146.47 L354.02,146.71 L352.72,146.97 L351.42,147.25 L350.13,147.56 L348.84,147.89 L347.56,148.22 L346.29,148.56 L345.03,148.90 L343.77,149.26 L342.52,149.64 L341.28,150.02 L340.05,150.41 L338.82,150.81 L337.60,151.22 L336.39,151.64 L335.18,152.06 L333.98,152.49 L332.79,152.94 L331.60,153.39 L330.43,153.86 L329.26,154.32 L328.09,154.79 L326.94,155.26 L325.79,155.72 L324.65,156.18 L323.51,156.63 L322.39,157.07 L321.27,157.50 L320.16,157.93 L319.05,158.36 L317.96,158.80 L316.87,159.26 L315.79,159.73 L314.71,160.21 L313.65,160.73 L312.59,161.26 L311.54,161.84 L310.49,162.44 L309.46,163.07 L308.43,163.72 L307.41,164.39 L306.40,165.07 L305.39,165.77 L304.40,166.48 L303.41,167.19 L302.43,167.91 L301.45,168.64 L300.49,169.37 L299.53,170.12 L298.58,170.88 L297.64,171.66 L296.70,172.44 L295.78,173.24 L294.86,174.05 L293.95,174.86 L293.05,175.67 L292.15,176.49 L291.27,177.31 L290.39,178.13 L289.52,178.95 L288.66,179.77 L287.81,180.58 L286.97,181.39 L286.13,182.21 L285.31,183.02 L284.49,183.84 L283.68,184.67 L282.88,185.50 L282.08,186.33 L281.30,187.17 L280.52,188.02 L279.76,188.88 L279.00,189.74 L278.25,190.62 L277.51,191.50 L276.78,192.40 L276.06,193.29 L275.34,194.19 L274.64,195.09 L273.94,195.99 L273.26,196.90 L272.58,197.80 L271.91,198.70 L271.25,199.60 L270.60,200.50 L269.96,201.39 L269.33,202.29 L268.71,203.18 L268.10,204.06 L267.50,204.94 L266.91,205.82 L266.32,206.69 L265.75,207.56 L265.19,208.41 L264.64,209.27 L264.09,210.11 L263.56,210.94 L263.04,211.77 L262.53,212.59 L262.03,213.39 L261.54,214.19 L261.06,214.98 L260.59,215.75 L260.13,216.51 L259.68,217.26 L259.24,218.00 L258.82,218.72 L258.40,219.43 L258.00,220.12 L257.61,220.79 L257.23,221.45 L256.86,222.10 L256.51,222.72 L256.17,223.33 L255.84,223.92 L255.52,224.49 L255.21,225.03 L254.92,225.56 L254.64,226.07 L254.38,226.55 L254.12,227.01 L253.89,227.44 L253.66,227.85 L253.46,228.23 L253.27,228.59 L253.09,228.91 L252.93,229.21 L252.79,229.47 L252.67,229.70 L252.56,229.89 L252.48,230.05 L252.43,230.15 L252.40,230.20Z" fill="#D3D3D3" fill-opacity="0.5"/>
<path d="M252.40,230.20 L252.41,230.16 L252.44,230.07 L252.48,229.94 L252.53,229.78 L252.59,229.58 L252.67,229.36 L252.75,229.10 L252.83,228.83 L252.93,228.52 L253.03,228.20 L253.14,227.85 L253.26,227.48 L253.39,227.09 L253.52,226.68 L253.66,226.25 L253.81,225.80 L253.96,225.33 L254.12,224.85 L254.28,224.34 L254.46,223.83 L254.63,223.29 L254.82,222.75 L255.01,222.18 L255.20,221.61 L255.41,221.02 L255.61,220.41 L255.83,219.80 L256.04,219.17 L256.27,218.53 L256.50,217.88 L256.73,217.21 L256.97,216.54 L257.22,215.86 L257.47,215.17 L257.73,214.47 L257.99,213.76 L258.25,213.04 L258.52,212.32 L258.80,211.58 L259.08,210.85 L259.37,210.10 L259.66,209.35 L259.96,208.59 L260.26,207.83 L260.56,207.06 L260.87,206.29 L261.19,205.51 L261.51,204.73 L261.84,203.94 L262.16,203.15 L262.50,202.36 L262.84,201.57 L263.18,200.77 L263.53,199.97 L263.88,199.17 L264.24,198.37 L264.60,197.57 L264.97,196.76 L265.34,195.96 L265.71,195.15 L266.09,194.35 L266.48,193.54 L266.86,192.74 L267.26,191.93 L267.65,191.13 L268.05,190.33 L268.46,189.53 L268.87,188.73 L269.28,187.93 L269.70,187.14 L270.12,186.34 L270.55,185.55 L270.98,184.76 L271.42,183.98 L271.85,183.20 L272.30,182.42 L272.74,181.64 L273.20,180.87 L273.65,180.10 L274.11,179.33 L274.57,178.57 L275.04,177.81 L275.51,177.05 L275.99,176.30 L276.47,175.56 L276.95,174.81 L277.44,174.08 L277.93,173.34 L278.42,172.61 L278.92,171.89 L279.43,171.17 L279.93,170.46 L280.44,169.75 L280.96,169.04 L281.48,168.34 L282.00,167.65 L282.52,166.96 L283.05,166.27 L283.59,165.60 L284.13,164.92 L284.67,164.25 L285.21,163.59 L285.76,162.93 L286.31,162.28 L286.87,161.63 L287.43,160.99 L287.99,160.35 L288.56,159.72 L289.13,159.10 L289.71,158.48 L290.28,157.86 L290.87,157.25 L291.45,156.65 L292.04,156.05 L292.63,155.46 L293.23,154.87 L293.83,154.29 L294.44,153.71 L295.04,153.14 L295.65,152.57 L296.27,152.01 L296.89,151.46 L297.51,150.91 L298.13,150.36 L298.76,149.82 L299.39,149.29 L300.03,148.76 L300.67,148.23 L301.31,147.71 L301.96,147.20 L302.61,146.69 L303.26,146.19 L303.92,145.69 L304.58,145.19 L305.24,144.70 L305.91,144.22 L306.58,143.74 L307.25,143.27 L307.93,142.80 L308.61,142.33 L309.30,141.87 L309.98,141.41 L310.68,140.96 L311.37,140.52 L312.07,140.07 L312.77,139.64 L313.47,139.20 L314.18,138.78 L314.89,138.35 L315.61,137.93 L316.33,137.52 L317.05,137.10 L317.77,136.70 L318.50,136.29 L319.23,135.90 L319.97,135.50 L320.70,135.11 L321.44,134.72 L322.19,134.34 L322.94,133.96 L323.69,133.59 L324.44,133.22 L325.20,132.85 L325.96,132.48 L326.73,132.13 L327.49,131.77 L328.26,131.42 L329.04,131.07 L329.81,130.72 L330.59,130.38 L331.38,130.04 L332.17,129.71 L332.96,129.38 L333.75,129.05 L334.54,128.72 L335.34,128.40 L336.15,128.08 L336.95,127.77 L337.76,127.46 L338.57,127.15 L339.39,126.84 L340.21,126.54 L341.03,126.24 L341.86,125.95 L342.68,125.65 L343.51,125.36 L344.35,125.07 L345.19,124.79 L346.03,124.51 L346.87,124.23 L347.72,123.95 L348.57,123.68 L349.42,123.41 L350.28,123.14 L351.14,122.88 L352.00,122.61 L352.86,122.35 L353.73,122.10 L354.60,121.84 L355.48,121.59 L356.36,121.34 L357.24,121.09 L358.12,120.85 L359.01,120.60 L359.90,120.36 L360.79,120.12 L361.69,119.89 L362.58,119.65 L363.49,119.42 L364.39,119.19 L365.30,118.97 L366.21,118.74 L367.13,118.52 L368.04,118.30 L368.96,118.08 L369.89,117.87 L370.81,117.65 L371.74,117.44 L372.67,117.23 L373.61,117.02 L374.55,116.81 L375.49,116.61 L376.43,116.41 L377.38,116.21 L378.33,116.01 L379.28,115.81 L380.24,115.62 L381.20,115.42 L382.16,115.23 L383.12,115.04 L384.09,114.86 L385.06,114.67 L386.03,114.49 L387.01,114.30 L387.99,114.12 L388.97,113.94 L389.96,113.76 L390.95,113.59 L391.94,113.41 L392.93,113.24 L393.93,113.07 L394.93,112.90 L395.93,112.73 L396.94,112.56 L397.94,112.40 L398.96,112.24 L399.97,112.07 L400.99,111.91 L402.01,111.75 L403.03,111.59 L404.06,111.44 L405.08,111.28 L406.12,111.13 L407.15,110.98 L408.19,110.82 L409.23,110.67 L410.27,110.53 L411.32,110.38 L412.36,110.23 L413.42,110.09 L414.47,109.94 L415.53,109.80 L416.59,109.66 L417.65,109.52 L418.72,109.38 L419.78,109.24 L420.85,109.11 L421.93,108.97 L423.01,108.84 L424.09,108.70 L425.17,108.57 L426.25,108.44 L427.34,108.31 L428.43,108.18 L429.53,108.05 L430.62,107.93 L431.72,107.80 L432.82,107.68 L433.93,107.55 L435.03,107.43 L436.14,107.31 L437.26,107.19 L438.37,107.07 L439.49,106.95 L440.61,106.83 L441.74,106.72 L442.86,106.60 L443.99,106.49 L445.13,106.37 L446.26,106.26 L447.40,106.15 L448.54,106.04 L449.68,105.93 L450.83,105.82 L451.98,105.71 L453.13,105.60 L454.28,105.49 L455.44,105.39 L456.60,105.28" fill="none" stroke="#f00" stroke-width="1.45"/>
<path d="M252.40,230.20 L252.41,230.16 L252.44,230.08 L252.48,229.97 L252.53,229.82 L252.59,229.65 L252.66,229.44 L252.74,229.22 L252.83,228.97 L252.93,228.70 L253.03,228.41 L253.14,228.10 L253.26,227.76 L253.38,227.41 L253.51,227.04 L253.65,226.66 L253.80,226.25 L253.95,225.83 L254.11,225.40 L254.27,224.95 L254.44,224.48 L254.62,224.00 L254.80,223.50 L254.99,222.99 L255.19,222.47 L255.39,221.94 L255.59,221.39 L255.80,220.83 L256.02,220.26 L256.24,219.68 L256.47,219.08 L256.71,218.48 L256.94,217.87 L257.19,217.24 L257.44,216.61 L257.69,215.97 L257.95,215.32 L258.22,214.66 L258.49,213.99 L258.76,213.32 L259.04,212.64 L259.33,211.95 L259.61,211.25 L259.91,210.55 L260.21,209.84 L260.51,209.12 L260.82,208.40 L261.13,207.68 L261.45,206.95 L261.78,206.21 L262.10,205.47 L262.44,204.73 L262.77,203.98 L263.11,203.23 L263.46,202.48 L263.81,201.72 L264.17,200.96 L264.52,200.19 L264.89,199.43 L265.26,198.66 L265.63,197.89 L266.01,197.12 L266.39,196.35 L266.77,195.57 L267.16,194.80 L267.56,194.02 L267.96,193.24 L268.36,192.47 L268.77,191.69 L269.18,190.91 L269.59,190.13 L270.01,189.36 L270.44,188.58 L270.86,187.80 L271.30,187.03 L271.73,186.25 L272.17,185.48 L272.62,184.71 L273.07,183.94 L273.52,183.17 L273.97,182.40 L274.44,181.64 L274.90,180.87 L275.37,180.11 L275.84,179.35 L276.32,178.60 L276.80,177.84 L277.28,177.09 L277.77,176.34 L278.26,175.60 L278.76,174.86 L279.26,174.12 L279.76,173.38 L280.27,172.65 L280.78,171.92 L281.29,171.19 L281.81,170.47 L282.34,169.75 L282.86,169.03 L283.39,168.32 L283.93,167.61 L284.47,166.91 L285.01,166.21 L285.55,165.51 L286.10,164.82 L286.65,164.13 L287.21,163.44 L287.77,162.76 L288.33,162.08 L288.90,161.41 L289.47,160.74 L290.05,160.08 L290.63,159.42 L291.21,158.76 L291.79,158.11 L292.38,157.47 L292.98,156.82 L293.57,156.19 L294.17,155.55 L294.78,154.92 L295.38,154.30 L295.99,153.68 L296.61,153.06 L297.23,152.45 L297.85,151.85 L298.47,151.24 L299.10,150.65 L299.73,150.05 L300.37,149.47 L301.01,148.88 L301.65,148.30 L302.29,147.73 L302.94,147.16 L303.60,146.59 L304.25,146.03 L304.91,145.47 L305.58,144.92 L306.24,144.37 L306.91,143.82 L307.58,143.28 L308.26,142.75 L308.94,142.22 L309.62,141.69 L310.31,141.17 L311.00,140.65 L311.69,140.14 L312.39,139.63 L313.09,139.12 L313.80,138.62 L314.50,138.13 L315.21,137.63 L315.93,137.14 L316.64,136.66 L317.36,136.18 L318.09,135.70 L318.81,135.23 L319.54,134.76 L320.28,134.30 L321.01,133.84 L321.75,133.38 L322.50,132.93 L323.24,132.48 L323.99,132.04 L324.75,131.60 L325.50,131.16 L326.26,130.73 L327.02,130.30 L327.79,129.87 L328.56,129.45 L329.33,129.03 L330.11,128.62 L330.88,128.21 L331.67,127.80 L332.45,127.40 L333.24,127.00 L334.03,126.60 L334.83,126.21 L335.62,125.82 L336.42,125.43 L337.23,125.05 L338.04,124.67 L338.85,124.29 L339.66,123.92 L340.48,123.55 L341.30,123.18 L342.12,122.82 L342.94,122.46 L343.77,122.10 L344.61,121.75 L345.44,121.39 L346.28,121.05 L347.12,120.70 L347.97,120.36 L348.81,120.02 L349.66,119.69 L350.52,119.35 L351.38,119.02 L352.24,118.70 L353.10,118.37 L353.96,118.05 L354.83,117.73 L355.71,117.42 L356.58,117.10 L357.46,116.79 L358.34,116.49 L359.23,116.18 L360.11,115.88 L361.00,115.58 L361.90,115.28 L362.79,114.99 L363.69,114.69 L364.59,114.40 L365.50,114.12 L366.41,113.83 L367.32,113.55 L368.23,113.27 L369.15,112.99 L370.07,112.72 L371.00,112.45 L371.92,112.18 L372.85,111.91 L373.78,111.64 L374.72,111.38 L375.66,111.12 L376.60,110.86 L377.54,110.60 L378.49,110.35 L379.44,110.09 L380.39,109.84 L381.35,109.59 L382.31,109.35 L383.27,109.10 L384.23,108.86 L385.20,108.62 L386.17,108.38 L387.14,108.15 L388.12,107.91 L389.10,107.68 L390.08,107.45 L391.07,107.22 L392.05,107.00 L393.04,106.77 L394.04,106.55 L395.03,106.33 L396.03,106.11 L397.04,105.89 L398.04,105.67 L399.05,105.46 L400.06,105.25 L401.07,105.04 L402.09,104.83 L403.11,104.62 L404.13,104.42 L405.16,104.21 L406.18,104.01 L407.21,103.81 L408.25,103.61 L409.28,103.42 L410.32,103.22 L411.36,103.03 L412.41,102.83 L413.46,102.64 L414.51,102.45 L415.56,102.26 L416.62,102.08 L417.68,101.89 L418.74,101.71 L419.80,101.53 L420.87,101.35 L421.94,101.17 L423.01,100.99 L424.09,100.81 L425.17,100.64 L426.25,100.46 L427.33,100.29 L428.42,100.12 L429.51,99.95 L430.60,99.78 L431.69,99.61 L432.79,99.45 L433.89,99.28 L435.00,99.12 L436.10,98.96 L437.21,98.80 L438.32,98.64 L439.44,98.48 L440.55,98.32 L441.67,98.17 L442.80,98.01 L443.92,97.86 L445.05,97.70 L446.18,97.55 L447.31,97.40 L448.45,97.25 L449.59,97.11 L450.73,96.96 L451.87,96.81 L453.02,96.67 L454.17,96.52 L455.32,96.38" fill="none" stroke="#000" stroke-width="1.45" stroke-dasharray="4.53 4.52"/>
<path d="M252.55,3.85 L252.55,230.45 L456.75,230.45 M252.55,230.45 h4.3 M252.55,154.92 h4.3 M252.55,79.38 h4.3 M252.55,3.85 h4.3 M252.55,230.45 v-4.3 M303.60,230.45 v-4.3 M354.65,230.45 v-4.3 M405.70,230.45 v-4.3 M456.75,230.45 v-4.3" fill="none" stroke="#000" stroke-width="0.75"/>
<text x="252.55" y="243.3" font-size="10" text-anchor="middle">0</text>
<text x="303.60" y="243.3" font-size="10" text-anchor="middle">8</text>
<text x="354.65" y="243.3" font-size="10" text-anchor="middle">16</text>
<text x="405.70" y="243.3" font-size="10" text-anchor="middle">24</text>
<text x="456.75" y="243.3" font-size="10" text-anchor="middle">32</text>
<text x="456.75" y="5.9" font-size="8" text-anchor="middle">b)</text>
<rect x="260.45" y="4.15" width="55.8" height="22.35" fill="#fff" stroke="#000" stroke-width="0.75"/>
<path d="M266.15,11.4 h11.9" stroke="#000" stroke-width="0.8" stroke-dasharray="3.2 2.9" fill="none"/>
<path d="M266.15,19.3 h12.1" stroke="#f00" stroke-width="0.8" fill="none"/>
<text x="283.65" y="13.6" font-size="6.05" stroke="#000" stroke-width="0.15">No cue</text>
<text x="283.65" y="21.7" font-size="6.05" stroke="#000" stroke-width="0.15">Visual cue</text>
<path d="M475.50,230.20 L475.53,230.12 L475.58,229.94 L475.66,229.68 L475.77,229.35 L475.89,228.95 L476.03,228.49 L476.19,227.98 L476.37,227.41 L476.56,226.78 L476.76,226.11 L476.99,225.38 L477.22,224.60 L477.48,223.77 L477.74,222.89 L478.02,221.97 L478.31,220.99 L478.62,219.97 L478.94,218.90 L479.27,217.78 L479.61,216.62 L479.96,215.41 L480.33,214.15 L480.71,212.85 L481.10,211.50 L481.50,210.10 L481.92,208.66 L482.34,207.17 L482.78,205.64 L483.23,204.06 L483.69,202.44 L484.16,200.77 L484.64,199.06 L485.13,197.31 L485.63,195.51 L486.14,193.66 L486.66,191.78 L487.19,189.82 L487.74,187.79 L488.29,185.69 L488.85,183.56 L489.42,181.40 L490.01,179.24 L490.60,177.03 L491.20,174.79 L491.81,172.53 L492.43,170.29 L493.06,168.10 L493.70,165.95 L494.35,163.75 L495.01,161.56 L495.68,159.51 L496.36,157.69 L497.04,156.20 L497.74,154.90 L498.44,153.74 L499.16,152.67 L499.88,151.65 L500.61,150.65 L501.35,149.70 L502.10,148.81 L502.86,147.94 L503.62,147.08 L504.40,146.22 L505.18,145.32 L505.98,144.39 L506.78,143.44 L507.59,142.48 L508.41,141.51 L509.23,140.54 L510.07,139.57 L510.91,138.61 L511.76,137.67 L512.62,136.75 L513.49,135.81 L514.37,134.88 L515.25,133.94 L516.15,133.00 L517.05,132.08 L517.96,131.17 L518.88,130.29 L519.80,129.44 L520.74,128.63 L521.68,127.86 L522.63,127.13 L523.59,126.43 L524.55,125.75 L525.53,125.10 L526.51,124.46 L527.50,123.84 L528.49,123.22 L529.50,122.61 L530.51,121.99 L531.53,121.37 L532.56,120.73 L533.59,120.07 L534.64,119.39 L535.69,118.70 L536.75,118.01 L537.81,117.31 L538.89,116.60 L539.97,115.90 L541.06,115.19 L542.15,114.49 L543.26,113.79 L544.37,113.10 L545.49,112.42 L546.61,111.76 L547.75,111.10 L548.89,110.45 L550.04,109.80 L551.19,109.16 L552.36,108.52 L553.53,107.89 L554.70,107.25 L555.89,106.62 L557.08,105.99 L558.28,105.36 L559.49,104.72 L560.70,104.09 L561.92,103.44 L563.15,102.79 L564.38,102.14 L565.62,101.48 L566.87,100.83 L568.13,100.17 L569.39,99.52 L570.66,98.86 L571.94,98.20 L573.23,97.54 L574.52,96.88 L575.82,96.21 L577.12,95.54 L578.43,94.86 L579.75,94.18 L581.08,93.49 L582.41,92.80 L583.75,92.10 L585.10,91.39 L586.45,90.67 L587.81,89.94 L589.18,89.20 L590.55,88.45 L591.93,87.69 L593.32,86.92 L594.72,86.14 L596.12,85.35 L597.52,84.56 L598.94,83.75 L600.36,82.94 L601.79,82.13 L603.22,81.31 L604.66,80.48 L606.11,79.65 L607.57,78.82 L609.03,77.98 L610.49,77.14 L611.97,76.30 L613.45,75.46 L614.94,74.61 L616.43,73.77 L617.93,72.93 L619.44,72.08 L620.95,71.25 L622.47,70.41 L624.00,69.58 L625.53,68.75 L627.07,67.93 L628.62,67.12 L630.17,66.31 L631.73,65.51 L633.30,64.73 L634.87,63.95 L636.45,63.18 L638.03,62.42 L639.62,61.66 L641.22,60.90 L642.82,60.15 L644.43,59.40 L646.05,58.65 L647.67,57.90 L649.30,57.16 L650.94,56.42 L652.58,55.69 L654.23,54.96 L655.88,54.23 L657.54,53.50 L659.21,52.78 L660.88,52.07 L662.56,51.35 L664.25,50.65 L665.94,49.94 L667.64,49.24 L669.34,48.55 L671.05,47.86 L672.77,47.18 L674.49,46.50 L676.22,45.83 L677.96,45.16 L679.70,44.50 L679.70,144.70 L677.96,144.74 L676.22,144.78 L674.49,144.82 L672.77,144.86 L671.05,144.90 L669.34,144.94 L667.64,144.99 L665.94,145.03 L664.25,145.08 L662.56,145.12 L660.88,145.17 L659.21,145.21 L657.54,145.26 L655.88,145.30 L654.23,145.35 L652.58,145.40 L650.94,145.45 L649.30,145.49 L647.67,145.54 L646.05,145.59 L644.43,145.64 L642.82,145.69 L641.22,145.74 L639.62,145.79 L638.03,145.84 L636.45,145.88 L634.87,145.93 L633.30,145.98 L631.73,146.03 L630.17,146.08 L628.62,146.13 L627.07,146.18 L625.53,146.23 L624.00,146.28 L622.47,146.33 L620.95,146.39 L619.44,146.44 L617.93,146.50 L616.43,146.56 L614.94,146.63 L613.45,146.69 L611.97,146.76 L610.49,146.84 L609.03,146.91 L607.57,147.00 L606.11,147.08 L604.66,147.18 L603.22,147.28 L601.79,147.38 L600.36,147.49 L598.94,147.60 L597.52,147.72 L596.12,147.84 L594.72,147.96 L593.32,148.09 L591.93,148.22 L590.55,148.37 L589.18,148.52 L587.81,148.68 L586.45,148.84 L585.10,149.02 L583.75,149.20 L582.41,149.39 L581.08,149.59 L579.75,149.79 L578.43,150.00 L577.12,150.21 L575.82,150.44 L574.52,150.68 L573.23,150.93 L571.94,151.19 L570.66,151.46 L569.39,151.75 L568.13,152.04 L566.87,152.35 L565.62,152.66 L564.38,152.98 L563.15,153.31 L561.92,153.66 L560.70,154.03 L559.49,154.42 L558.28,154.83 L557.08,155.25 L555.89,155.69 L554.70,156.13 L553.53,156.59 L552.36,157.06 L551.19,157.54 L550.04,158.03 L548.89,158.54 L547.75,159.06 L546.61,159.60 L545.49,160.15 L544.37,160.72 L543.26,161.31 L542.15,161.91 L541.06,162.54 L539.97,163.19 L538.89,163.87 L537.81,164.57 L536.75,165.29 L535.69,166.03 L534.64,166.78 L533.59,167.55 L532.56,168.33 L531.53,169.12 L530.51,169.91 L529.50,170.73 L528.49,171.57 L527.50,172.44 L526.51,173.33 L525.53,174.23 L524.55,175.15 L523.59,176.07 L522.63,176.99 L521.68,177.91 L520.74,178.82 L519.80,179.72 L518.88,180.61 L517.96,181.49 L517.05,182.37 L516.15,183.24 L515.25,184.11 L514.37,184.97 L513.49,185.84 L512.62,186.70 L511.76,187.57 L510.91,188.43 L510.07,189.30 L509.23,190.17 L508.41,191.03 L507.59,191.91 L506.78,192.78 L505.98,193.64 L505.18,194.50 L504.40,195.36 L503.62,196.21 L502.86,197.05 L502.10,197.89 L501.35,198.72 L500.61,199.55 L499.88,200.37 L499.16,201.19 L498.44,201.99 L497.74,202.79 L497.04,203.59 L496.36,204.38 L495.68,205.16 L495.01,205.93 L494.35,206.70 L493.70,207.46 L493.06,208.21 L492.43,208.95 L491.81,209.68 L491.20,210.41 L490.60,211.13 L490.01,211.84 L489.42,212.54 L488.85,213.23 L488.29,213.91 L487.74,214.58 L487.19,215.25 L486.66,215.90 L486.14,216.54 L485.63,217.18 L485.13,217.80 L484.64,218.41 L484.16,219.01 L483.69,219.60 L483.23,220.17 L482.78,220.74 L482.34,221.29 L481.92,221.83 L481.50,222.36 L481.10,222.87 L480.71,223.38 L480.33,223.86 L479.96,224.34 L479.61,224.80 L479.27,225.24 L478.94,225.67 L478.62,226.09 L478.31,226.48 L478.02,226.87 L477.74,227.23 L477.48,227.58 L477.22,227.91 L476.99,228.22 L476.76,228.52 L476.56,228.79 L476.37,229.05 L476.19,229.28 L476.03,229.49 L475.89,229.68 L475.77,229.84 L475.66,229.98 L475.58,230.09 L475.53,230.17 L475.50,230.20Z" fill="#D3D3D3" fill-opacity="0.5"/>
<path d="M475.50,230.20 L475.53,230.08 L475.58,229.81 L475.66,229.42 L475.77,228.92 L475.89,228.34 L476.03,227.66 L476.19,226.91 L476.37,226.09 L476.56,225.19 L476.76,224.23 L476.99,223.20 L477.22,222.12 L477.48,220.97 L477.74,219.78 L478.02,218.53 L478.31,217.24 L478.62,215.90 L478.94,214.52 L479.27,213.09 L479.61,211.63 L479.96,210.14 L480.33,208.61 L480.71,207.04 L481.10,205.45 L481.50,203.83 L481.92,202.19 L482.34,200.52 L482.78,198.83 L483.23,197.11 L483.69,195.38 L484.16,193.63 L484.64,191.87 L485.13,190.11 L485.63,188.37 L486.14,186.65 L486.66,184.93 L487.19,183.21 L487.74,181.47 L488.29,179.72 L488.85,177.94 L489.42,176.15 L490.01,174.35 L490.60,172.55 L491.20,170.75 L491.81,168.97 L492.43,167.21 L493.06,165.43 L493.70,163.62 L494.35,161.82 L495.01,160.07 L495.68,158.45 L496.36,156.99 L497.04,155.70 L497.74,154.52 L498.44,153.42 L499.16,152.38 L499.88,151.37 L500.61,150.39 L501.35,149.45 L502.10,148.55 L502.86,147.67 L503.62,146.80 L504.40,145.92 L505.18,145.02 L505.98,144.09 L506.78,143.15 L507.59,142.20 L508.41,141.24 L509.23,140.28 L510.07,139.33 L510.91,138.39 L511.76,137.46 L512.62,136.55 L513.49,135.64 L514.37,134.72 L515.25,133.81 L516.15,132.90 L517.05,132.00 L517.96,131.11 L518.88,130.25 L519.80,129.42 L520.74,128.62 L521.68,127.86 L522.63,127.13 L523.59,126.44 L524.55,125.76 L525.53,125.10 L526.51,124.46 L527.50,123.83 L528.49,123.21 L529.50,122.59 L530.51,121.97 L531.53,121.35 L532.56,120.72 L533.59,120.07 L534.64,119.41 L535.69,118.76 L536.75,118.12 L537.81,117.47 L538.89,116.83 L539.97,116.19 L541.06,115.53 L542.15,114.87 L543.26,114.20 L544.37,113.50 L545.49,112.79 L546.61,112.06 L547.75,111.30 L548.89,110.52 L550.04,109.72 L551.19,108.91 L552.36,108.08 L553.53,107.23 L554.70,106.37 L555.89,105.51 L557.08,104.64 L558.28,103.76 L559.49,102.88 L560.70,102.00 L561.92,101.12 L563.15,100.25 L564.38,99.38 L565.62,98.51 L566.87,97.65 L568.13,96.77 L569.39,95.90 L570.66,95.03 L571.94,94.15 L573.23,93.27 L574.52,92.38 L575.82,91.49 L577.12,90.59 L578.43,89.69 L579.75,88.79 L581.08,87.87 L582.41,86.95 L583.75,86.03 L585.10,85.09 L586.45,84.13 L587.81,83.16 L589.18,82.18 L590.55,81.20 L591.93,80.21 L593.32,79.22 L594.72,78.23 L596.12,77.24 L597.52,76.26 L598.94,75.29 L600.36,74.33 L601.79,73.39 L603.22,72.48 L604.66,71.58 L606.11,70.71 L607.57,69.85 L609.03,69.02 L610.49,68.19 L611.97,67.37 L613.45,66.56 L614.94,65.75 L616.43,64.93 L617.93,64.10 L619.44,63.26 L620.95,62.40 L622.47,61.52 L624.00,60.61 L625.53,59.67 L627.07,58.67 L628.62,57.64 L630.17,56.59 L631.73,55.54 L633.30,54.52 L634.87,53.53 L636.45,52.53 L638.03,51.53 L639.62,50.53 L641.22,49.54 L642.82,48.57 L644.43,47.62 L646.05,46.69 L647.67,45.80 L649.30,44.95 L650.94,44.14 L652.58,43.36 L654.23,42.62 L655.88,41.90 L657.54,41.18 L659.21,40.47 L660.88,39.76 L662.56,39.02 L664.25,38.26 L665.94,37.47 L667.64,36.67 L669.34,35.87 L671.05,35.05 L672.77,34.22 L674.49,33.38 L676.22,32.53 L677.96,31.67 L679.70,30.80 L679.70,144.70 L677.96,144.73 L676.22,144.75 L674.49,144.78 L672.77,144.82 L671.05,144.85 L669.34,144.89 L667.64,144.93 L665.94,144.97 L664.25,145.01 L662.56,145.06 L660.88,145.10 L659.21,145.15 L657.54,145.20 L655.88,145.25 L654.23,145.30 L652.58,145.35 L650.94,145.40 L649.30,145.45 L647.67,145.51 L646.05,145.56 L644.43,145.62 L642.82,145.67 L641.22,145.73 L639.62,145.78 L638.03,145.84 L636.45,145.90 L634.87,145.96 L633.30,146.02 L631.73,146.09 L630.17,146.15 L628.62,146.22 L627.07,146.29 L625.53,146.37 L624.00,146.45 L622.47,146.53 L620.95,146.61 L619.44,146.70 L617.93,146.79 L616.43,146.88 L614.94,146.99 L613.45,147.09 L611.97,147.21 L610.49,147.33 L609.03,147.46 L607.57,147.60 L606.11,147.75 L604.66,147.90 L603.22,148.05 L601.79,148.21 L600.36,148.38 L598.94,148.55 L597.52,148.73 L596.12,148.91 L594.72,149.10 L593.32,149.31 L591.93,149.54 L590.55,149.77 L589.18,150.02 L587.81,150.27 L586.45,150.53 L585.10,150.80 L583.75,151.07 L582.41,151.34 L581.08,151.62 L579.75,151.89 L578.43,152.16 L577.12,152.43 L575.82,152.70 L574.52,152.98 L573.23,153.26 L571.94,153.55 L570.66,153.84 L569.39,154.14 L568.13,154.45 L566.87,154.77 L565.62,155.09 L564.38,155.42 L563.15,155.77 L561.92,156.13 L560.70,156.50 L559.49,156.88 L558.28,157.26 L557.08,157.66 L555.89,158.06 L554.70,158.47 L553.53,158.88 L552.36,159.28 L551.19,159.70 L550.04,160.12 L548.89,160.55 L547.75,161.00 L546.61,161.47 L545.49,161.96 L544.37,162.48 L543.26,163.02 L542.15,163.61 L541.06,164.24 L539.97,164.91 L538.89,165.60 L537.81,166.33 L536.75,167.08 L535.69,167.84 L534.64,168.63 L533.59,169.42 L532.56,170.22 L531.53,171.04 L530.51,171.90 L529.50,172.80 L528.49,173.73 L527.50,174.69 L526.51,175.65 L525.53,176.62 L524.55,177.59 L523.59,178.54 L522.63,179.47 L521.68,180.37 L520.74,181.24 L519.80,182.08 L518.88,182.90 L517.96,183.70 L517.05,184.49 L516.15,185.27 L515.25,186.04 L514.37,186.81 L513.49,187.57 L512.62,188.34 L511.76,189.11 L510.91,189.89 L510.07,190.68 L509.23,191.48 L508.41,192.29 L507.59,193.10 L506.78,193.91 L505.98,194.72 L505.18,195.53 L504.40,196.33 L503.62,197.12 L502.86,197.92 L502.10,198.71 L501.35,199.49 L500.61,200.28 L499.88,201.05 L499.16,201.83 L498.44,202.59 L497.74,203.36 L497.04,204.12 L496.36,204.87 L495.68,205.62 L495.01,206.36 L494.35,207.10 L493.70,207.83 L493.06,208.55 L492.43,209.27 L491.81,209.98 L491.20,210.68 L490.60,211.38 L490.01,212.07 L489.42,212.75 L488.85,213.42 L488.29,214.09 L487.74,214.74 L487.19,215.39 L486.66,216.03 L486.14,216.66 L485.63,217.28 L485.13,217.89 L484.64,218.49 L484.16,219.08 L483.69,219.66 L483.23,220.23 L482.78,220.79 L482.34,221.34 L481.92,221.87 L481.50,222.39 L481.10,222.90 L480.71,223.40 L480.33,223.88 L479.96,224.35 L479.61,224.81 L479.27,225.25 L478.94,225.68 L478.62,226.09 L478.31,226.49 L478.02,226.87 L477.74,227.23 L477.48,227.58 L477.22,227.91 L476.99,228.22 L476.76,228.52 L476.56,228.79 L476.37,229.05 L476.19,229.28 L476.03,229.49 L475.89,229.68 L475.77,229.84 L475.66,229.98 L475.58,230.09 L475.53,230.17 L475.50,230.20Z" fill="#D3D3D3" fill-opacity="0.5"/>
<path d="M475.50,230.20 L475.51,230.17 L475.54,230.10 L475.58,230.00 L475.63,229.88 L475.69,229.73 L475.77,229.56 L475.85,229.37 L475.93,229.16 L476.03,228.93 L476.13,228.68 L476.24,228.41 L476.36,228.13 L476.49,227.83 L476.62,227.52 L476.76,227.19 L476.91,226.85 L477.06,226.49 L477.22,226.11 L477.38,225.73 L477.56,225.33 L477.73,224.92 L477.92,224.49 L478.11,224.06 L478.30,223.61 L478.51,223.15 L478.71,222.68 L478.93,222.20 L479.14,221.71 L479.37,221.20 L479.60,220.69 L479.83,220.17 L480.07,219.64 L480.32,219.10 L480.57,218.55 L480.83,217.99 L481.09,217.43 L481.35,216.85 L481.62,216.27 L481.90,215.68 L482.18,215.09 L482.47,214.48 L482.76,213.87 L483.06,213.25 L483.36,212.63 L483.66,212.00 L483.97,211.37 L484.29,210.72 L484.61,210.08 L484.94,209.43 L485.26,208.77 L485.60,208.11 L485.94,207.44 L486.28,206.77 L486.63,206.09 L486.98,205.41 L487.34,204.73 L487.70,204.04 L488.07,203.35 L488.44,202.66 L488.81,201.96 L489.19,201.26 L489.58,200.56 L489.96,199.86 L490.36,199.15 L490.75,198.44 L491.15,197.73 L491.56,197.01 L491.97,196.30 L492.38,195.58 L492.80,194.86 L493.22,194.14 L493.65,193.42 L494.08,192.70 L494.52,191.98 L494.95,191.25 L495.40,190.53 L495.84,189.80 L496.30,189.08 L496.75,188.35 L497.21,187.63 L497.67,186.90 L498.14,186.18 L498.61,185.45 L499.09,184.73 L499.57,184.01 L500.05,183.28 L500.54,182.56 L501.03,181.84 L501.52,181.12 L502.02,180.40 L502.53,179.68 L503.03,178.97 L503.54,178.25 L504.06,177.54 L504.58,176.82 L505.10,176.11 L505.62,175.40 L506.15,174.70 L506.69,173.99 L507.23,173.29 L507.77,172.59 L508.31,171.89 L508.86,171.19 L509.41,170.49 L509.97,169.80 L510.53,169.11 L511.09,168.42 L511.66,167.74 L512.23,167.05 L512.81,166.37 L513.38,165.69 L513.97,165.02 L514.55,164.35 L515.14,163.68 L515.73,163.01 L516.33,162.35 L516.93,161.69 L517.54,161.03 L518.14,160.37 L518.75,159.72 L519.37,159.07 L519.99,158.42 L520.61,157.78 L521.23,157.14 L521.86,156.50 L522.49,155.87 L523.13,155.24 L523.77,154.61 L524.41,153.99 L525.06,153.37 L525.71,152.75 L526.36,152.14 L527.02,151.53 L527.68,150.92 L528.34,150.32 L529.01,149.72 L529.68,149.12 L530.35,148.53 L531.03,147.94 L531.71,147.35 L532.40,146.77 L533.08,146.19 L533.78,145.61 L534.47,145.04 L535.17,144.47 L535.87,143.90 L536.57,143.34 L537.28,142.78 L537.99,142.22 L538.71,141.67 L539.43,141.12 L540.15,140.58 L540.87,140.04 L541.60,139.50 L542.33,138.96 L543.07,138.43 L543.80,137.90 L544.54,137.38 L545.29,136.86 L546.04,136.34 L546.79,135.83 L547.54,135.32 L548.30,134.81 L549.06,134.30 L549.83,133.80 L550.59,133.30 L551.36,132.81 L552.14,132.32 L552.91,131.83 L553.69,131.35 L554.48,130.87 L555.27,130.39 L556.06,129.92 L556.85,129.44 L557.64,128.98 L558.44,128.51 L559.25,128.05 L560.05,127.59 L560.86,127.14 L561.67,126.68 L562.49,126.24 L563.31,125.79 L564.13,125.35 L564.96,124.91 L565.78,124.47 L566.61,124.04 L567.45,123.61 L568.29,123.18 L569.13,122.76 L569.97,122.34 L570.82,121.92 L571.67,121.50 L572.52,121.09 L573.38,120.68 L574.24,120.28 L575.10,119.87 L575.96,119.47 L576.83,119.07 L577.70,118.68 L578.58,118.29 L579.46,117.90 L580.34,117.51 L581.22,117.13 L582.11,116.75 L583.00,116.37 L583.89,115.99 L584.79,115.62 L585.68,115.25 L586.59,114.88 L587.49,114.52 L588.40,114.16 L589.31,113.80 L590.23,113.44 L591.14,113.08 L592.06,112.73 L592.99,112.38 L593.91,112.04 L594.84,111.69 L595.77,111.35 L596.71,111.01 L597.65,110.67 L598.59,110.34 L599.53,110.01 L600.48,109.68 L601.43,109.35 L602.38,109.02 L603.34,108.70 L604.30,108.38 L605.26,108.06 L606.22,107.75 L607.19,107.43 L608.16,107.12 L609.13,106.81 L610.11,106.51 L611.09,106.20 L612.07,105.90 L613.06,105.60 L614.05,105.30 L615.04,105.01 L616.03,104.71 L617.03,104.42 L618.03,104.13 L619.03,103.84 L620.04,103.56 L621.04,103.27 L622.06,102.99 L623.07,102.71 L624.09,102.43 L625.11,102.16 L626.13,101.88 L627.16,101.61 L628.18,101.34 L629.22,101.07 L630.25,100.81 L631.29,100.54 L632.33,100.28 L633.37,100.02 L634.42,99.76 L635.46,99.51 L636.52,99.25 L637.57,99.00 L638.63,98.75 L639.69,98.50 L640.75,98.25 L641.82,98.00 L642.88,97.76 L643.95,97.51 L645.03,97.27 L646.11,97.03 L647.19,96.79 L648.27,96.56 L649.35,96.32 L650.44,96.09 L651.53,95.86 L652.63,95.63 L653.72,95.40 L654.82,95.17 L655.92,94.95 L657.03,94.73 L658.13,94.50 L659.24,94.28 L660.36,94.06 L661.47,93.85 L662.59,93.63 L663.71,93.42 L664.84,93.20 L665.96,92.99 L667.09,92.78 L668.23,92.57 L669.36,92.36 L670.50,92.16 L671.64,91.95 L672.78,91.75 L673.93,91.55 L675.08,91.35 L676.23,91.15 L677.38,90.95 L678.54,90.75 L679.70,90.56" fill="none" stroke="#f00" stroke-width="1.45"/>
<path d="M475.50,230.20 L475.51,230.16 L475.54,230.08 L475.58,229.97 L475.63,229.82 L475.69,229.65 L475.76,229.44 L475.84,229.22 L475.93,228.97 L476.03,228.70 L476.13,228.41 L476.24,228.10 L476.36,227.76 L476.48,227.41 L476.61,227.04 L476.75,226.66 L476.90,226.25 L477.05,225.83 L477.21,225.40 L477.37,224.95 L477.54,224.48 L477.72,224.00 L477.90,223.50 L478.09,222.99 L478.29,222.47 L478.49,221.94 L478.69,221.39 L478.90,220.83 L479.12,220.26 L479.34,219.68 L479.57,219.08 L479.81,218.48 L480.04,217.87 L480.29,217.24 L480.54,216.61 L480.79,215.97 L481.05,215.32 L481.32,214.66 L481.59,213.99 L481.86,213.32 L482.14,212.64 L482.43,211.95 L482.71,211.25 L483.01,210.55 L483.31,209.84 L483.61,209.12 L483.92,208.40 L484.23,207.68 L484.55,206.95 L484.88,206.21 L485.20,205.47 L485.54,204.73 L485.87,203.98 L486.21,203.23 L486.56,202.48 L486.91,201.72 L487.27,200.96 L487.62,200.19 L487.99,199.43 L488.36,198.66 L488.73,197.89 L489.11,197.12 L489.49,196.35 L489.87,195.57 L490.26,194.80 L490.66,194.02 L491.06,193.24 L491.46,192.47 L491.87,191.69 L492.28,190.91 L492.69,190.13 L493.11,189.36 L493.54,188.58 L493.96,187.80 L494.40,187.03 L494.83,186.25 L495.27,185.48 L495.72,184.71 L496.17,183.94 L496.62,183.17 L497.07,182.40 L497.54,181.64 L498.00,180.87 L498.47,180.11 L498.94,179.35 L499.42,178.60 L499.90,177.84 L500.38,177.09 L500.87,176.34 L501.36,175.60 L501.86,174.86 L502.36,174.12 L502.86,173.38 L503.37,172.65 L503.88,171.92 L504.39,171.19 L504.91,170.47 L505.44,169.75 L505.96,169.03 L506.49,168.32 L507.03,167.61 L507.57,166.91 L508.11,166.21 L508.65,165.51 L509.20,164.82 L509.75,164.13 L510.31,163.44 L510.87,162.76 L511.43,162.08 L512.00,161.41 L512.57,160.74 L513.15,160.08 L513.73,159.42 L514.31,158.76 L514.89,158.11 L515.48,157.47 L516.08,156.82 L516.67,156.19 L517.27,155.55 L517.88,154.92 L518.48,154.30 L519.09,153.68 L519.71,153.06 L520.33,152.45 L520.95,151.85 L521.57,151.24 L522.20,150.65 L522.83,150.05 L523.47,149.47 L524.11,148.88 L524.75,148.30 L525.39,147.73 L526.04,147.16 L526.70,146.59 L527.35,146.03 L528.01,145.47 L528.68,144.92 L529.34,144.37 L530.01,143.82 L530.68,143.28 L531.36,142.75 L532.04,142.22 L532.72,141.69 L533.41,141.17 L534.10,140.65 L534.79,140.14 L535.49,139.63 L536.19,139.12 L536.90,138.62 L537.60,138.13 L538.31,137.63 L539.03,137.14 L539.74,136.66 L540.46,136.18 L541.19,135.70 L541.91,135.23 L542.64,134.76 L543.38,134.30 L544.11,133.84 L544.85,133.38 L545.60,132.93 L546.34,132.48 L547.09,132.04 L547.85,131.60 L548.60,131.16 L549.36,130.73 L550.12,130.30 L550.89,129.87 L551.66,129.45 L552.43,129.03 L553.21,128.62 L553.98,128.21 L554.77,127.80 L555.55,127.40 L556.34,127.00 L557.13,126.60 L557.93,126.21 L558.72,125.82 L559.52,125.43 L560.33,125.05 L561.14,124.67 L561.95,124.29 L562.76,123.92 L563.58,123.55 L564.40,123.18 L565.22,122.82 L566.04,122.46 L566.87,122.10 L567.71,121.75 L568.54,121.39 L569.38,121.05 L570.22,120.70 L571.07,120.36 L571.91,120.02 L572.76,119.69 L573.62,119.35 L574.48,119.02 L575.34,118.70 L576.20,118.37 L577.06,118.05 L577.93,117.73 L578.81,117.42 L579.68,117.10 L580.56,116.79 L581.44,116.49 L582.33,116.18 L583.21,115.88 L584.10,115.58 L585.00,115.28 L585.89,114.99 L586.79,114.69 L587.69,114.40 L588.60,114.12 L589.51,113.83 L590.42,113.55 L591.33,113.27 L592.25,112.99 L593.17,112.72 L594.10,112.45 L595.02,112.18 L595.95,111.91 L596.88,111.64 L597.82,111.38 L598.76,111.12 L599.70,110.86 L600.64,110.60 L601.59,110.35 L602.54,110.09 L603.49,109.84 L604.45,109.59 L605.41,109.35 L606.37,109.10 L607.33,108.86 L608.30,108.62 L609.27,108.38 L610.24,108.15 L611.22,107.91 L612.20,107.68 L613.18,107.45 L614.17,107.22 L615.15,107.00 L616.14,106.77 L617.14,106.55 L618.13,106.33 L619.13,106.11 L620.14,105.89 L621.14,105.67 L622.15,105.46 L623.16,105.25 L624.17,105.04 L625.19,104.83 L626.21,104.62 L627.23,104.42 L628.26,104.21 L629.28,104.01 L630.31,103.81 L631.35,103.61 L632.38,103.42 L633.42,103.22 L634.46,103.03 L635.51,102.83 L636.56,102.64 L637.61,102.45 L638.66,102.26 L639.72,102.08 L640.78,101.89 L641.84,101.71 L642.90,101.53 L643.97,101.35 L645.04,101.17 L646.11,100.99 L647.19,100.81 L648.27,100.64 L649.35,100.46 L650.43,100.29 L651.52,100.12 L652.61,99.95 L653.70,99.78 L654.79,99.61 L655.89,99.45 L656.99,99.28 L658.10,99.12 L659.20,98.96 L660.31,98.80 L661.42,98.64 L662.54,98.48 L663.65,98.32 L664.77,98.17 L665.90,98.01 L667.02,97.86 L668.15,97.70 L669.28,97.55 L670.41,97.40 L671.55,97.25 L672.69,97.11 L673.83,96.96 L674.97,96.81 L676.12,96.67 L677.27,96.52 L678.42,96.38" fill="none" stroke="#000" stroke-width="1.45" stroke-dasharray="4.53 4.52"/>
<path d="M475.65,3.85 L475.65,230.45 L679.85,230.45 M475.65,230.45 h4.3 M475.65,154.92 h4.3 M475.65,79.38 h4.3 M475.65,3.85 h4.3 M475.65,230.45 v-4.3 M526.70,230.45 v-4.3 M577.75,230.45 v-4.3 M628.80,230.45 v-4.3 M679.85,230.45 v-4.3" fill="none" stroke="#000" stroke-width="0.75"/>
<text x="475.65" y="243.3" font-size="10" text-anchor="middle">0</text>
<text x="526.70" y="243.3" font-size="10" text-anchor="middle">8</text>
<text x="577.75" y="243.3" font-size="10" text-anchor="middle">16</text>
<text x="628.80" y="243.3" font-size="10" text-anchor="middle">24</text>
<text x="679.85" y="243.3" font-size="10" text-anchor="middle">32</text>
<text x="679.85" y="5.9" font-size="8" text-anchor="middle">c)</text>
<rect x="483.55" y="4.15" width="54" height="22.35" fill="#fff" stroke="#000" stroke-width="0.75"/>
<path d="M489.25,11.4 h11.9" stroke="#000" stroke-width="0.8" stroke-dasharray="3.2 2.9" fill="none"/>
<path d="M489.25,19.3 h12.1" stroke="#f00" stroke-width="0.8" fill="none"/>
<text x="506.75" y="13.6" font-size="6.05" stroke="#000" stroke-width="0.15">No cue</text>
<text x="506.75" y="21.7" font-size="6.05" stroke="#000" stroke-width="0.15">Both cues</text>
<text x="315" y="257.2" font-size="11">Initial prey density</text>
<text transform="translate(9,155.4) rotate(-90)" font-size="11">Prey consumed</text>
</svg>
</body></html>
